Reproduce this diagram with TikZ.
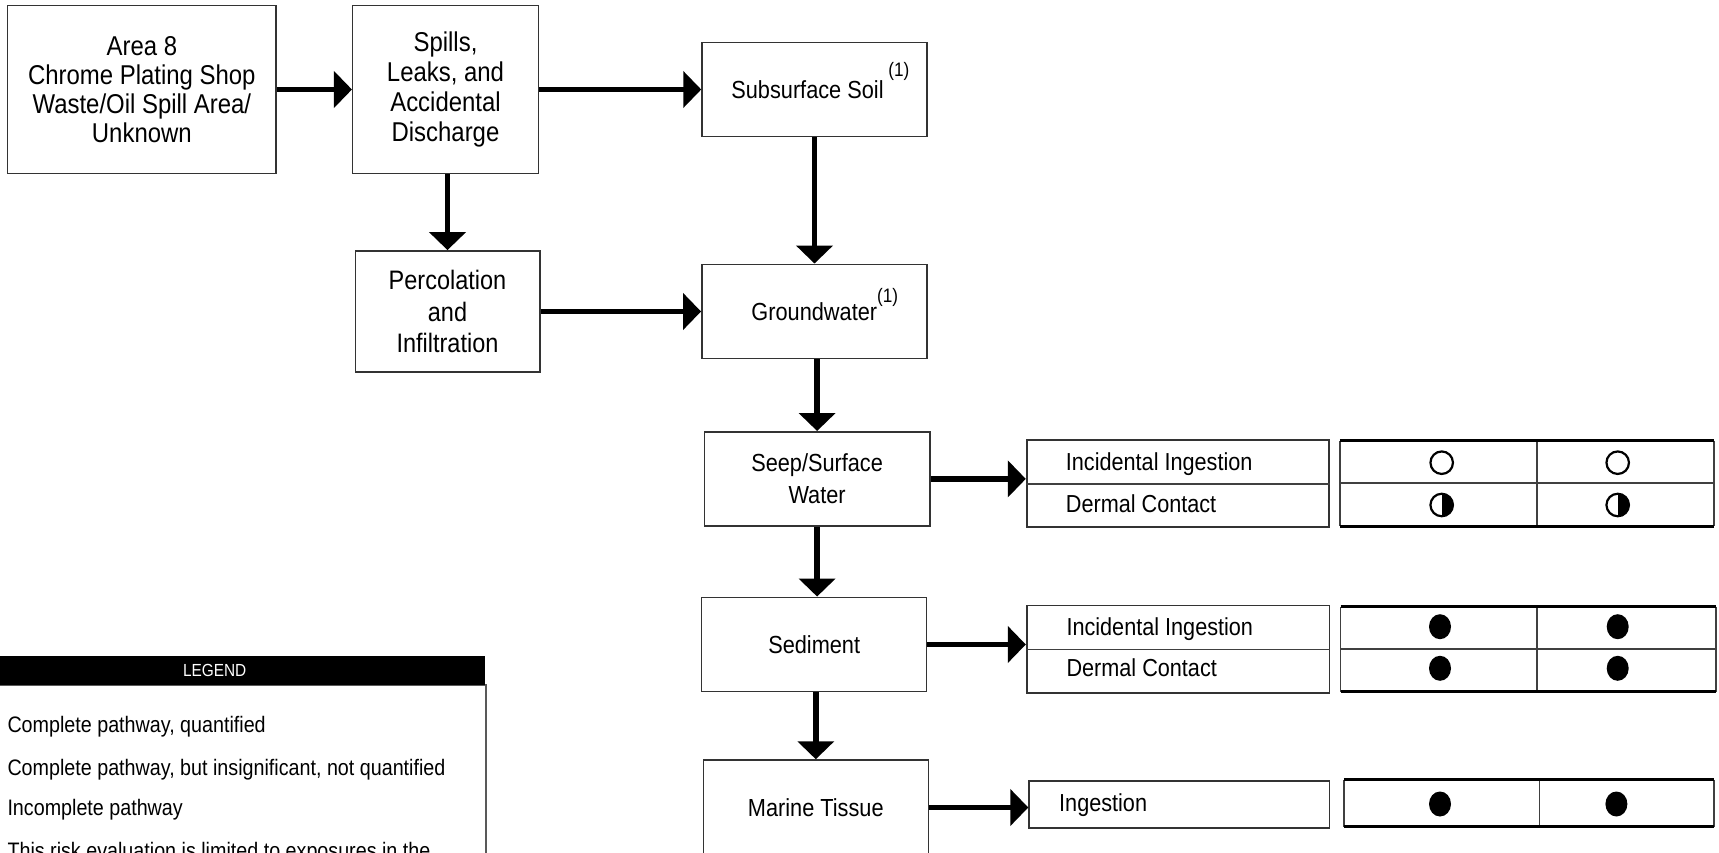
\documentclass[tikz,border=0pt]{standalone}
\usepackage{fontspec}
\setmainfont{Liberation Sans}[FakeStretch=0.88]
\usetikzlibrary{arrows.meta,shapes.geometric}
\begin{document}
\begin{tikzpicture}[x=1pt,y=-1pt,
  box/.style={draw=black!80, line width=1.5pt, inner sep=0pt, align=center},
  big/.style={font=\fontsize{27.2}{29}\selectfont},
  bigB/.style={font=\fontsize{27.2}{30}\selectfont},
  bigP/.style={font=\fontsize{26.7}{31.7}\selectfont},
  med/.style={font=\fontsize{24.7}{32.5}\selectfont},
  tab/.style={font=\fontsize{24.6}{29}\selectfont, inner sep=0pt, anchor=base west},
  legtxt/.style={font=\fontsize{22.4}{26}\selectfont, inner sep=0pt, anchor=base west},
  flow/.style={line width=5.5pt, -{Triangle[length=18pt,width=36pt]}},
  tabline/.style={draw=black!75, line width=1.8pt},
  thickline/.style={draw=black, line width=3pt},
  open/.style={circle, draw=black, line width=2.2pt, minimum size=22.5pt, inner sep=0pt},
  full/.style={ellipse, fill=black, minimum width=22pt, minimum height=25pt, inner sep=0pt},
  half/.style={circle, draw=black, line width=2.2pt, minimum size=22.5pt, inner sep=0pt,
    path picture={\fill[black] (path picture bounding box.north) rectangle (path picture bounding box.south east);}}
]
\useasboundingbox (0,0) rectangle (1719,853);
\clip (0,0) rectangle (1719,853);

% flow boxes
\node[box, big, minimum width=268.3pt, minimum height=167.6pt] (A) at (141.85,89.5)
  {Area 8\\Chrome Plating Shop\\Waste/Oil Spill Area/\\Unknown};
\node[box, bigB, minimum width=185.6pt, minimum height=167.6pt] (B) at (445.5,89.5)
  {Spills,\\Leaks, and\\Accidental\\Discharge};
\node[box, med, minimum width=225pt, minimum height=94pt] (Sub) at (814.5,89.7)
  {\hspace*{-14pt}Subsurface Soil\rlap{\smash{\raisebox{22pt}{\fontsize{19.5}{20}\selectfont\ (1)}}}};
\node[box, bigP, minimum width=184.5pt, minimum height=121.3pt] (Perc) at (447.5,311.5)
  {Percolation\\and\\Infiltration};
\node[box, med, minimum width=225pt, minimum height=94pt] (GW) at (814.3,311.3)
  {Groundwater\rlap{\smash{\raisebox{18pt}{\fontsize{19.5}{20}\selectfont (1)}}}};
\node[box, med, minimum width=225.3pt, minimum height=94.3pt] (Seep) at (817.1,478.9)
  {Seep/Surface\\Water};
\node[box, med, minimum width=225pt, minimum height=94.4pt] (Sed) at (814.2,644.5)
  {Sediment};
\node[box, med, minimum width=225pt, minimum height=95pt] (Mar) at (815.8,807.5)
  {Marine Tissue};

% label tables
\node[box, line width=1.8pt, minimum width=302.3pt, minimum height=87.3pt] (L1) at (1177.85,483.65) {};
\draw[tabline] (L1.west) -- (L1.east);
\node[tab] (L1a) at (1065.7,470.7) {Incidental Ingestion};
\node[tab] (L1b) at (1065.7,512.3) {Dermal Contact};

\node[box, line width=1.8pt, minimum width=302.7pt, minimum height=87.8pt] (L2) at (1178.05,649.4) {};
\draw[tabline] (L2.west) -- (L2.east);
\node[tab] (L2a) at (1066.3,635) {Incidental Ingestion};
\node[tab] (L2b) at (1066.3,676.7) {Dermal Contact};

\node[box, line width=1.8pt, minimum width=300.2pt, minimum height=47.6pt] (L3) at (1179.3,804.5) {};
\node[tab] (L3a) at (1059,811.7) {Ingestion};

% symbol tables
\node[inner sep=0pt, minimum width=374pt, minimum height=85.3pt] (S1) at (1527,483.35) {};
\coordinate (S1d) at (1536.7,483.35);
\draw[tabline] (S1.north west) -- (S1.south west);
\draw[tabline] (S1.north east) -- (S1.south east);
\draw[tabline] (S1.west) -- (S1.east);
\draw[tabline] (S1d |- S1.north) -- (S1d |- S1.south);
\draw[thickline] (S1.north west) -- (S1.north east);
\draw[thickline] (S1.south west) -- (S1.south east);
\node[open] (s11) at (1441.7,462.7) {};
\node[open] (s12) at (1617.7,462.7) {};
\node[half] (s13) at (1441.7,505) {};
\node[half] (s14) at (1617.7,505) {};

\node[inner sep=0pt, minimum width=375.1pt, minimum height=85pt] (S2) at (1528.25,649.2) {};
\coordinate (S2d) at (1537,649.2);
\draw[tabline] (S2.north west) -- (S2.south west);
\draw[tabline] (S2.north east) -- (S2.south east);
\draw[tabline] (S2.west) -- (S2.east);
\draw[tabline] (S2d |- S2.north) -- (S2d |- S2.south);
\draw[thickline] (S2.north west) -- (S2.north east);
\draw[thickline] (S2.south west) -- (S2.south east);
\node[full] (s21) at (1440,626.7) {};
\node[full] (s22) at (1617.7,626.7) {};
\node[full] (s23) at (1440,668.3) {};
\node[full] (s24) at (1617.7,668.3) {};

\node[inner sep=0pt, minimum width=369.8pt, minimum height=46.7pt] (S3) at (1528.9,803.35) {};
\coordinate (S3d) at (1539.5,803.35);
\draw[tabline] (S3.north west) -- (S3.south west);
\draw[tabline] (S3.north east) -- (S3.south east);
\draw[tabline] (S3d |- S3.north) -- (S3d |- S3.south);
\draw[thickline] (S3.north west) -- (S3.north east);
\draw[thickline] (S3.south west) -- (S3.south east);
\node[full] (s31) at (1440,804) {};
\node[full] (s32) at (1616.4,804) {};

% connectors
\draw[flow] (A.east) -- (A.east -| B.west);
\draw[flow] (B.east) -- (B.east -| Sub.west);
\draw[flow] (B.south -| Perc.north) -- (Perc.north);
\draw[flow] (Sub.south) -- (Sub.south |- GW.north);
\draw[flow] (Perc.east) -- (Perc.east -| GW.west);
\draw[flow] (GW.south -| Seep.north) -- (Seep.north);
\draw[flow] (Seep.south) -- (Seep.south |- Sed.north);
\draw[flow] (Sed.south -| Mar.north) -- (Mar.north);
\draw[flow] (Seep.east) -- (Seep.east -| L1.west);
\draw[flow] (Sed.east) -- (Sed.east -| L2.west);
\draw[flow] (Mar.east) -- (Mar.east -| L3.west);

% legend
\node[draw=black!65, line width=2pt, inner sep=0pt, minimum width=541pt, minimum height=250pt, anchor=north west] (legbody) at (-56,684.3) {};
\node[fill=black, inner sep=0pt, minimum width=541pt, minimum height=28.3pt, anchor=north west,
  text=white, font=\fontsize{17.5}{18}\selectfont] (leghead) at (-56,656) {LEGEND};
\node[legtxt] (lg1) at (7.3,732.5) {Complete pathway, quantified};
\node[legtxt] (lg2) at (7.3,775) {Complete pathway, but insignificant, not quantified};
\node[legtxt] (lg3) at (7.3,815.5) {Incomplete pathway};
\node[legtxt] (lg4) at (7.3,858) {This risk evaluation is limited to exposures in the};
\end{tikzpicture}
\end{document}
